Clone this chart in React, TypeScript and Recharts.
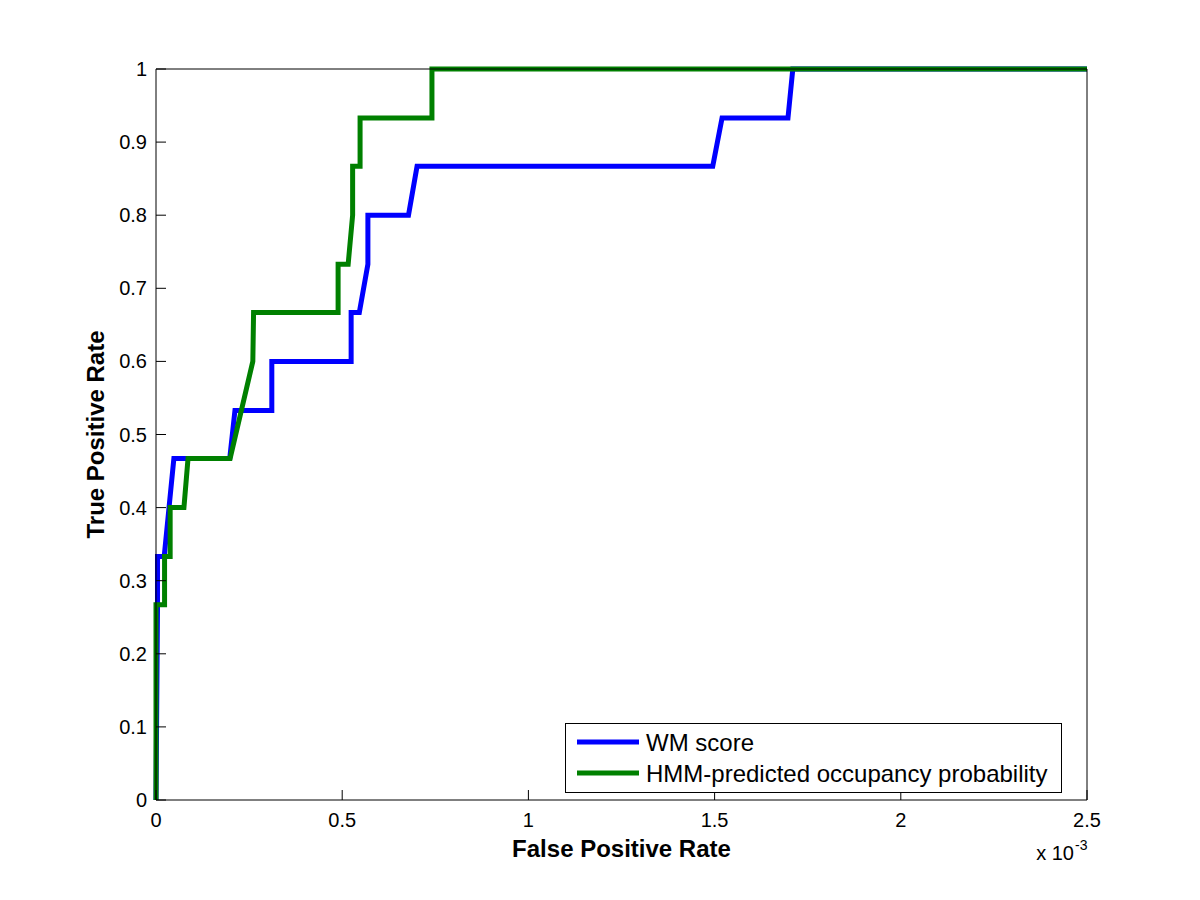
import React from "react";
import { LineChart, Line, XAxis, YAxis, Legend } from "recharts";

// False positive rate in units of 1e-3 (axis shows "x 10^-3")
const wmFpr = [0, 0.004, 0.004, 0.022, 0.035, 0.048, 0.198, 0.212, 0.311, 0.311, 0.524, 0.524, 0.546, 0.569, 0.569, 0.678, 0.701, 1.495, 1.52, 1.697, 1.71, 2.5];
const wmTpr = [0, 0.26, 0.333, 0.333, 0.4, 0.467, 0.467, 0.533, 0.533, 0.6, 0.6, 0.667, 0.667, 0.733, 0.8, 0.8, 0.867, 0.867, 0.933, 0.933, 1, 1];

const hmmFpr = [0, 0, 0.023, 0.023, 0.038, 0.038, 0.075, 0.086, 0.199, 0.26, 0.262, 0.489, 0.489, 0.516, 0.528, 0.528, 0.548, 0.548, 0.741, 0.741, 2.5];
const hmmTpr = [0, 0.267, 0.267, 0.333, 0.333, 0.4, 0.4, 0.467, 0.467, 0.6, 0.667, 0.667, 0.733, 0.733, 0.8, 0.867, 0.867, 0.933, 0.933, 1, 1];

const xTicks = [0, 0.5, 1, 1.5, 2, 2.5];
const xTickLabels = ["0", "0.5", "1", "1.5", "2", "2.5"];
const yTicks = [0, 0.1, 0.2, 0.3, 0.4, 0.5, 0.6, 0.7, 0.8, 0.9, 1];
const yTickLabels = ["0", "0.1", "0.2", "0.3", "0.4", "0.5", "0.6", "0.7", "0.8", "0.9", "1"];

const seriesNames = ["WM score", "HMM-predicted occupancy probability"];
const seriesColors = ["#0000ff", "#008000"];

const wmData = wmFpr.map((f, i) => ({ fpr: f, tpr: wmTpr[i] }));
const hmmData = hmmFpr.map((f, i) => ({ fpr: f, tpr: hmmTpr[i] }));

const FONT = "'Liberation Sans', Arial, Helvetica, sans-serif";
const TICK = 10;

const labelFor = (v: number, ticks: number[], labels: string[]) => {
  const i = ticks.findIndex((t) => Math.abs(t - v) < 1e-9);
  return i >= 0 ? labels[i] : String(v);
};

const BottomTick = (p: any) => (
  <g>
    <line x1={p.x} y1={p.y} x2={p.x} y2={p.y - TICK} stroke="#000" strokeWidth={1} />
    <text x={p.x} y={p.y + 27} textAnchor="middle" fontSize={20} fontFamily={FONT} fill="#000">
      {labelFor(p.payload.value, xTicks, xTickLabels)}
    </text>
  </g>
);
const TopTick = (p: any) => (
  <line x1={p.x} y1={p.y} x2={p.x} y2={p.y + TICK} stroke="#000" strokeWidth={1} />
);
const LeftTick = (p: any) => (
  <g>
    <line x1={p.x} y1={p.y} x2={p.x + TICK} y2={p.y} stroke="#000" strokeWidth={1} />
    <text x={p.x - 9} y={p.y + 7} textAnchor="end" fontSize={20} fontFamily={FONT} fill="#000">
      {labelFor(p.payload.value, yTicks, yTickLabels)}
    </text>
  </g>
);
const RightTick = (p: any) => (
  <line x1={p.x} y1={p.y} x2={p.x - TICK} y2={p.y} stroke="#000" strokeWidth={1} />
);

const XTitle = (p: any) => {
  const vb = p.viewBox || {};
  const cx = vb.x + vb.width / 2;
  const right = vb.x + vb.width;
  return (
    <g>
      <text x={cx} y={vb.y + 57} textAnchor="middle" fontSize={24} fontWeight="bold" fontFamily={FONT} fill="#000">
        False Positive Rate
      </text>
      <text x={right - 13} y={vb.y + 60} textAnchor="end" fontSize={20} fontFamily={FONT} fill="#000">
        x 10
      </text>
      <text x={right - 12} y={vb.y + 50} textAnchor="start" fontSize={14} fontFamily={FONT} fill="#000">
        -3
      </text>
    </g>
  );
};

const YTitle = (p: any) => {
  const vb = p.viewBox || {};
  const cy = vb.y + vb.height / 2;
  const x = vb.x + vb.width - 52;
  return (
    <text
      x={x}
      y={cy}
      transform={`rotate(-90, ${x}, ${cy})`}
      textAnchor="middle"
      fontSize={24}
      fontWeight="bold"
      fontFamily={FONT}
      fill="#000"
    >
      True Positive Rate
    </text>
  );
};

const LegendBox = () => (
  <svg width={497} height={70} style={{ display: "block" }}>
    <rect x={0.5} y={0.5} width={496} height={69} fill="#fff" stroke="#000" strokeWidth={1} />
    {seriesNames.map((n, i) => (
      <g key={n}>
        <line x1={12} x2={74} y1={19 + i * 31} y2={19 + i * 31} stroke={seriesColors[i]} strokeWidth={5} />
        <text x={81} y={28 + i * 31} fontSize={24} fontFamily={FONT} fill="#000">
          {n}
        </text>
      </g>
    ))}
  </svg>
);

const axisLine = { stroke: "#000", strokeWidth: 1 };

export default function App() {
  return (
    <div style={{ position: "absolute", left: 0, top: 0, width: 1200, height: 900, background: "#fff" }}>
      <LineChart width={1200} height={900} margin={{ top: 59, right: 103, bottom: 70, left: 126 }}>
        <XAxis
          xAxisId="b"
          dataKey="fpr"
          type="number"
          domain={[0, 2.5]}
          ticks={xTicks}
          interval={0}
          height={30}
          tickSize={0}
          tickMargin={0}
          tick={<BottomTick />}
          axisLine={axisLine}
          label={<XTitle />}
        />
        <XAxis
          xAxisId="t"
          orientation="top"
          type="number"
          domain={[0, 2.5]}
          ticks={xTicks}
          interval={0}
          height={10}
          tickSize={0}
          tickMargin={0}
          tick={<TopTick />}
          axisLine={axisLine}
        />
        <YAxis
          yAxisId="l"
          dataKey="tpr"
          type="number"
          domain={[0, 1]}
          ticks={yTicks}
          interval={0}
          width={30}
          tickSize={0}
          tickMargin={0}
          tick={<LeftTick />}
          axisLine={axisLine}
          label={<YTitle />}
        />
        <YAxis
          yAxisId="r"
          orientation="right"
          type="number"
          domain={[0, 1]}
          ticks={yTicks}
          interval={0}
          width={10}
          tickSize={0}
          tickMargin={0}
          tick={<RightTick />}
          axisLine={axisLine}
        />
        <Line
          xAxisId="b"
          yAxisId="l"
          data={wmData}
          dataKey="tpr"
          name={seriesNames[0]}
          type="linear"
          stroke={seriesColors[0]}
          strokeWidth={5}
          dot={false}
          activeDot={false}
          isAnimationActive={false}
          strokeLinejoin="miter"
        />
        <Line
          xAxisId="b"
          yAxisId="l"
          data={hmmData}
          dataKey="tpr"
          name={seriesNames[1]}
          type="linear"
          stroke={seriesColors[1]}
          strokeWidth={5}
          dot={false}
          activeDot={false}
          isAnimationActive={false}
          strokeLinejoin="miter"
        />
        <Legend
          layout="vertical"
          align="center"
          verticalAlign="middle"
          content={<LegendBox />}
          wrapperStyle={{ position: "absolute", left: 565, top: 723, width: 497, height: 70 }}
        />
      </LineChart>
    </div>
  );
}
